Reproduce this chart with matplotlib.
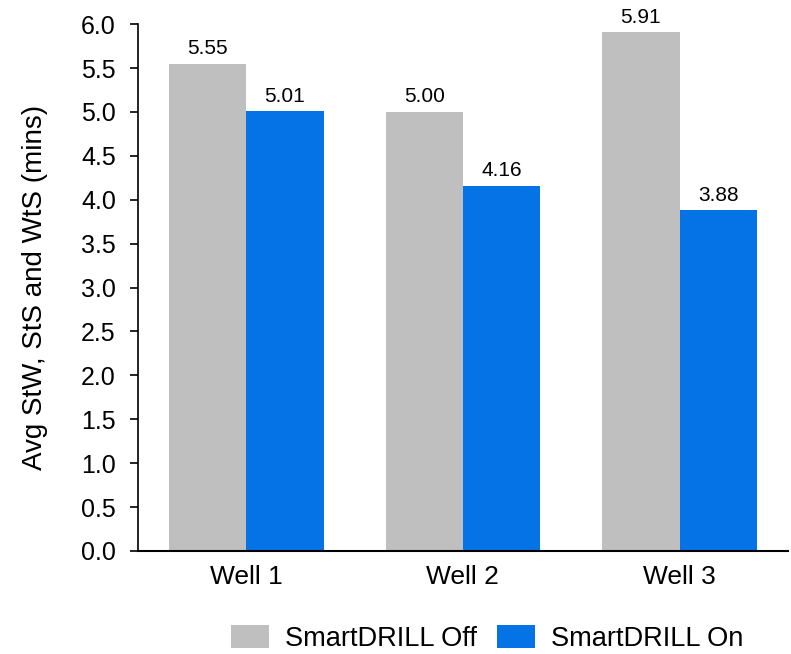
import matplotlib.pyplot as plt
import numpy as np

# chart data
wells = ["Well 1", "Well 2", "Well 3"]
smartdrill_off = [5.55, 5.00, 5.91]
smartdrill_on = [5.01, 4.16, 3.88]
series_names = ["SmartDRILL Off", "SmartDRILL On"]
y_ticks = [0.0, 0.5, 1.0, 1.5, 2.0, 2.5, 3.0, 3.5, 4.0, 4.5, 5.0, 5.5, 6.0]

plt.rcParams['font.family'] = ['Liberation Sans', 'DejaVu Sans']

fig = plt.figure(figsize=(7.91, 6.54), dpi=100)
ax = fig.add_axes([0.1745, 0.1575, 0.8215, 0.8055])

x = np.arange(len(wells))
w = 0.357
bars_off = ax.bar(x - w / 2, smartdrill_off, w, color="#BFBFBF", label=series_names[0])
bars_on = ax.bar(x + w / 2, smartdrill_on, w, color="#0573E6", label=series_names[1])

for bars in (bars_off, bars_on):
    ax.bar_label(bars, fmt="%.2f", padding=4, fontsize=15)

ax.set_xlim(-0.5, 2.5)
ax.set_ylim(0, 6.0)
ax.set_yticks(y_ticks)
ax.set_yticklabels([f"{t:.1f}" for t in y_ticks])
ax.set_xticks(x)
ax.set_xticklabels(wells)
ax.tick_params(axis="y", labelsize=18, length=6, width=1.2, direction="out", pad=10)
ax.tick_params(axis="x", labelsize=19, length=0, pad=10)
ax.set_ylabel("Avg StW, StS and WtS (mins)", fontsize=20, labelpad=24)

for s in ("top", "right"):
    ax.spines[s].set_visible(False)
ax.spines["left"].set_linewidth(1.2)
ax.spines["bottom"].set_linewidth(1.5)

fig.legend(loc="center", bbox_to_anchor=(0.616, 0.024), ncol=2, frameon=False,
           fontsize=19.6, handlelength=1.4, handleheight=0.95, columnspacing=0.72,
           handletextpad=0.58, borderpad=0)

fig.savefig("out.png", dpi=100)
